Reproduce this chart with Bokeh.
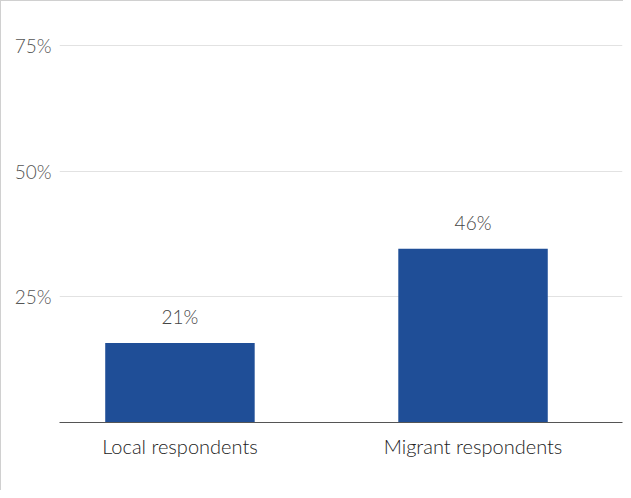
from bokeh.plotting import figure
from bokeh.models import Range1d, FixedTicker, ColumnDataSource
from bokeh.core.properties import value
from bokeh.embed import file_html
from bokeh.resources import INLINE

categories = ["Local respondents", "Migrant respondents"]
bar_heights = [15.8, 34.6]
bar_labels = ["21%", "46%"]
y_ticks = [25, 50, 75]
y_tick_labels = ["25%", "50%", "75%"]

FONT = "'Lato Light', Lato"
xs = list(range(len(categories)))
src = ColumnDataSource(dict(x=xs, top=bar_heights, label=bar_labels))

p = figure(width=623, height=490, output_backend="svg", toolbar_location=None,
           x_range=Range1d(-0.411, 1.51), y_range=Range1d(0, 80),
           min_border_left=58, min_border_right=2, min_border_top=19, min_border_bottom=69)
p.styles = {"border-top": "1px solid #d0d0d0", "border-left": "1px solid #d0d0d0",
            "box-sizing": "border-box"}
p.outline_line_color = None
p.background_fill_color = "white"
p.border_fill_color = "white"

p.vbar(x="x", top="top", width=0.51, source=src, color="#1f4e97", line_color=None)
p.text(x="x", y="top", text="label", source=src, text_align="center",
       text_baseline="bottom", y_offset=-15, text_font=value(FONT),
       text_font_size="19px", text_color="#444444")

p.xgrid.grid_line_color = None
p.ygrid.ticker = FixedTicker(ticks=y_ticks)
p.ygrid.grid_line_color = "#e2e2e2"
p.ygrid.grid_line_width = 1

p.yaxis.ticker = FixedTicker(ticks=y_ticks)
p.yaxis.major_label_overrides = dict(zip(y_ticks, y_tick_labels))
p.yaxis.axis_line_color = None
p.yaxis.major_tick_line_color = None
p.yaxis.minor_tick_line_color = None
p.yaxis.major_label_standoff = 2
p.yaxis.major_label_text_font = FONT
p.yaxis.major_label_text_font_size = "19px"
p.yaxis.major_label_text_color = "#555555"

p.xaxis.ticker = FixedTicker(ticks=xs)
p.xaxis.major_label_overrides = dict(zip(xs, categories))
p.xaxis.axis_line_color = "#555555"
p.xaxis.axis_line_width = 1
p.xaxis.major_tick_line_color = None
p.xaxis.minor_tick_line_color = None
p.xaxis.major_label_standoff = 5
p.xaxis.major_label_text_font = FONT
p.xaxis.major_label_text_font_size = "20px"
p.xaxis.major_label_text_color = "#222222"

open("out.html", "w").write(file_html(p, INLINE))
